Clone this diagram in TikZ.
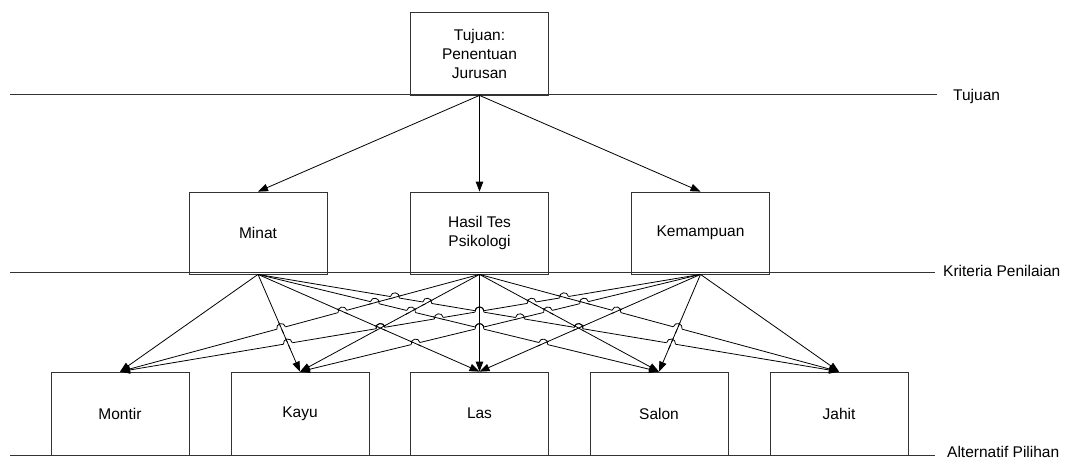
\documentclass[tikz,border=0pt]{standalone}
\usepackage{fontspec}
\setmainfont{Liberation Sans}
\usetikzlibrary{arrows.meta,calc}
\newcommand\crosspt[4]{\pgfcoordinate{P}{\pgfpointintersectionoflines{\pgfpointanchor{#1}{center}}{\pgfpointanchor{#2}{center}}{\pgfpointanchor{#3}{center}}{\pgfpointanchor{#4}{center}}}}
\begin{document}
\begin{tikzpicture}[x=1pt,y=-1pt,
  box/.style={draw=black!80, line width=0.8pt, minimum width=138pt, minimum height=83pt, inner sep=0pt, align=center, font=\fontsize{15.5}{19}\selectfont},
  lvl/.style={draw=black!80, line width=0.8pt},
  lbl/.style={anchor=base west, inner sep=0pt, font=\fontsize{15.5}{19}\selectfont},
  arr/.style={draw=black, line width=0.8pt, -{Triangle[length=10pt,width=7.5pt]}},
  conn/.style={draw=black, line width=0.8pt},
  eraser/.style={draw=white, line width=3pt},
]
\useasboundingbox (0,0) rectangle (1066,461);

% boxes
\node[box] (tujuan) at (479.5,53.5) {Tujuan:\\Penentuan\\Jurusan};
\node[box, minimum height=82pt] (minat) at (258,233) {Minat};
\node[box, minimum height=82pt] (hasil) at (479.5,233) {Hasil Tes\\Psikologi};
\node[box, minimum height=82pt] (kemampuan) at (700.5,233) {Kemampuan};
\node[box] (montir) at (120,413.5) {Montir};
\node[box] (kayu) at (300,413.5) {Kayu};
\node[box] (las) at (479.5,413.5) {Las};
\node[box] (salon) at (659,413.5) {Salon};
\node[box] (jahit) at (839,413.5) {Jahit};

% level lines
\coordinate (l1a) at (10,94.5);  \coordinate (l1b) at (937,94.5);
\coordinate (l2a) at (10,272.5); \coordinate (l2b) at (935,272.5);
\coordinate (l3a) at (10,455.5); \coordinate (l3b) at (935,455.5);
\draw[lvl] (l1a) -- (l1b);
\draw[lvl] (l2a) -- (l2b);
\draw[lvl] (l3a) -- (l3b);
\node[lbl] (ltujuan) at (953,100) {Tujuan};
\node[lbl] (lkriteria) at (943,276) {Kriteria Penilaian};
\node[lbl] (lalternatif) at (947,457) {Alternatif Pilihan};

% top arrows
\draw[arr] (tujuan.south) -- (minat.north);
\draw[arr] (tujuan.south) -- (hasil.north);
\draw[arr] (tujuan.south) -- (kemampuan.north);

% sources and targets
\coordinate (s1) at (minat.south);
\coordinate (s2) at (hasil.south);
\coordinate (s3) at (kemampuan.south);
\coordinate (t1) at (montir.north);
\coordinate (t2) at (kayu.north);
\coordinate (t3) at (las.north);
\coordinate (t4) at (salon.north);
\coordinate (t5) at (jahit.north);

\foreach \s in {1,2,3}{
  \foreach \t in {1,...,5}{
    \draw[arr] (s\s) -- (t\t);
  }
}

% line jumps: hopper left end / hopper right end / other start / other end
\def\hoplist{t1/s2/s1/t2, t1/s2/s1/t3, s1/t4/s2/t1, s1/t4/s2/t2,
  s1/t4/s2/t3, s1/t5/s2/t1, s1/t5/s2/t2, s1/t5/s2/t3, s1/t5/s2/t4,
  t1/s3/s1/t2, t1/s3/s1/t3, t2/s3/s1/t3, t1/s3/s1/t4, s1/t4/s3/t3,
  s1/t5/s3/t2, s1/t5/s3/t3, s1/t5/s3/t4,
  t1/s3/s2/t2, t1/s3/s2/t3, t2/s3/s2/t3, t1/s3/s2/t4, t2/s3/s2/t4,
  t1/s3/s2/t5, t2/s3/s2/t5, s2/t5/s3/t3, s2/t5/s3/t4}

\foreach \a/\b/\c/\d in \hoplist {
  \crosspt{\a}{\b}{\c}{\d}
  \draw[eraser] ($(P)!4.5pt!(\a)$) -- ($(P)!4.5pt!(\b)$);
}
\foreach \a/\b/\c/\d in \hoplist {
  \crosspt{\a}{\b}{\c}{\d}
  \draw[conn] ($(P)!6pt!(\c)$) -- ($(P)!6pt!(\d)$);
}
\foreach \a/\b/\c/\d in \hoplist {
  \crosspt{\a}{\b}{\c}{\d}
  \coordinate (PL) at ($(P)!4.5pt!(\a)$);
  \coordinate (PR) at ($(P)!4.5pt!(\b)$);
  \draw[conn] (PL) .. controls ($(PL)!6pt!90:(P)$) and ($(PR)!6pt!-90:(P)$) .. (PR);
}
\end{tikzpicture}
\end{document}
